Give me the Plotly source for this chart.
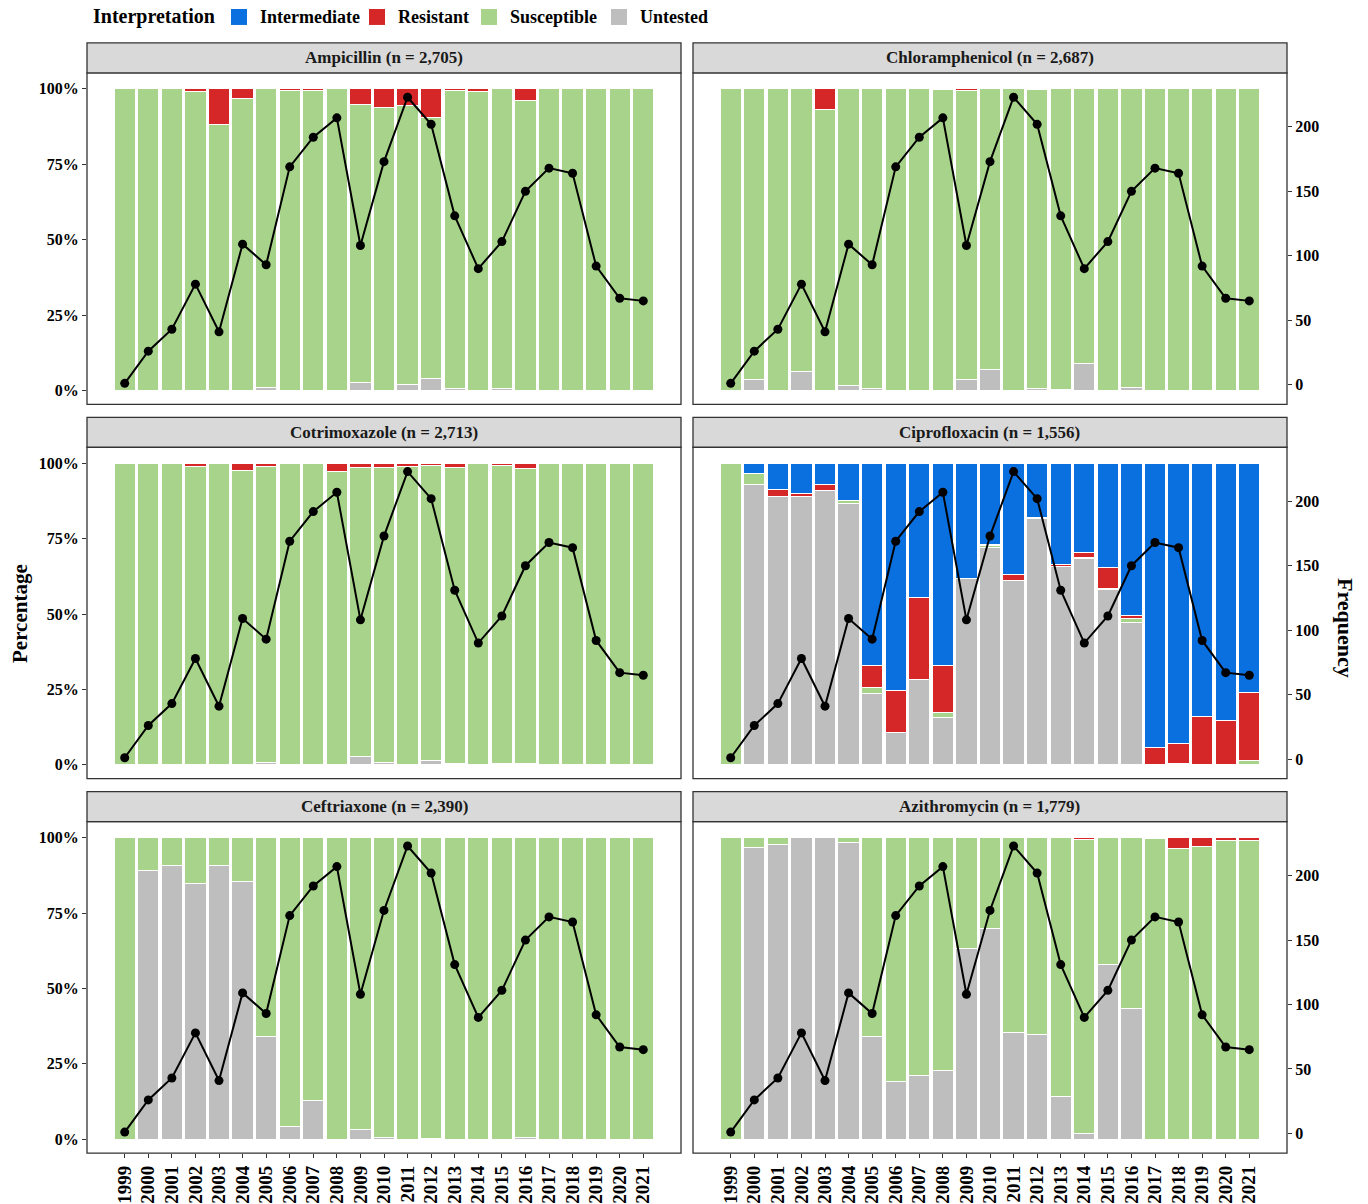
import plotly.graph_objects as go

years = list(range(1999, 2022))
year_labels = [str(y) for y in years]

# Total isolates per year (line, right axis)
frequency = [1, 26, 43, 78, 41, 109, 93, 169, 192, 207, 108, 173, 223, 202, 131, 90, 111, 150, 168, 164, 92, 67, 65]

categories = ["Intermediate", "Resistant", "Susceptible", "Untested"]
colors = {"Intermediate": "#0A6FDF", "Resistant": "#D62728", "Susceptible": "#A7D48A", "Untested": "#BEBEBE"}

# Percentages per year (1999..2021)
amp_intermediate = [0]*23
amp_resistant   = [0, 0, 0, 1.0, 11.7, 3.3, 0, 0.4, 0.4, 0, 5.2, 6.2, 5.5, 9.6, 0.7, 0.8, 0, 3.9, 0, 0, 0, 0, 0]
amp_susceptible = [100, 100, 100, 99.0, 88.3, 96.7, 99.0, 99.6, 99.6, 100, 92.1, 93.8, 92.6, 86.3, 98.8, 99.2, 99.4, 96.1, 100, 100, 100, 100, 100]
amp_untested    = [0, 0, 0, 0, 0, 0, 1.0, 0, 0, 0, 2.7, 0, 1.9, 4.1, 0.5, 0, 0.6, 0, 0, 0, 0, 0, 0]

chl_intermediate = [0]*23
chl_resistant   = [0, 0, 0, 0, 6.9, 0, 0, 0, 0, 0.3, 0.6, 0, 0, 0.3, 0, 0, 0, 0, 0, 0, 0, 0, 0]
chl_susceptible = [100, 96.5, 100, 93.8, 93.1, 98.3, 99.2, 100, 100, 99.7, 95.9, 93.1, 100, 99.1, 99.6, 91.2, 100, 98.9, 100, 100, 100, 100, 100]
chl_untested    = [0, 3.5, 0, 6.2, 0, 1.7, 0.8, 0, 0, 0, 3.5, 6.9, 0, 0.6, 0.4, 8.8, 0, 1.1, 0, 0, 0, 0, 0]

cot_intermediate = [0]*23
cot_resistant   = [0, 0, 0, 1.2, 0, 2.4, 1.0, 0, 0, 2.7, 1.5, 1.4, 1.1, 0.6, 1.3, 0, 0.8, 1.7, 0, 0, 0, 0, 0]
cot_susceptible = [100, 100, 100, 98.8, 100, 97.6, 98.2, 100, 100, 97.3, 95.8, 97.8, 98.9, 98.1, 98.2, 100, 98.6, 97.8, 100, 100, 100, 100, 100]
cot_untested    = [0, 0, 0, 0, 0, 0, 0.8, 0, 0, 0, 2.7, 0.8, 0, 1.3, 0.5, 0, 0.6, 0.5, 0, 0, 0, 0, 0]

cip_intermediate = [0, 3.4, 8.8, 10.0, 6.9, 12.4, 67.0, 75.4, 44.6, 67.0, 38.3, 26.8, 37.0, 18.0, 33.7, 29.5, 34.7, 50.6, 94.3, 92.9, 84.1, 85.3, 75.9]
cip_resistant   = [0, 0, 2.2, 1.1, 2.2, 0, 7.5, 14.0, 27.0, 15.6, 0, 0.6, 2.0, 0, 0.7, 1.8, 6.8, 1.0, 5.7, 6.5, 15.9, 14.7, 22.8]
cip_susceptible = [100, 3.6, 0, 0, 0, 1.1, 2.0, 0, 0, 1.7, 0, 0.6, 0, 0.4, 0, 0.4, 0.3, 1.3, 0, 0.6, 0, 0, 1.3]
cip_untested    = [0, 93.0, 89.0, 88.9, 90.9, 86.5, 23.5, 10.6, 28.4, 15.7, 61.7, 72.0, 61.0, 81.6, 65.6, 68.3, 58.2, 47.1, 0, 0, 0, 0, 0]

cef_intermediate = [0]*23
cef_resistant   = [0]*23
cef_susceptible = [100, 11.0, 9.1, 15.2, 9.4, 14.4, 66.0, 95.7, 87.3, 100, 96.7, 99.5, 100, 99.6, 100, 100, 100, 99.5, 100, 100, 100, 100, 100]
cef_untested    = [0, 89.0, 90.9, 84.8, 90.6, 85.6, 34.0, 4.3, 12.7, 0, 3.3, 0.5, 0, 0.4, 0, 0, 0, 0.5, 0, 0, 0, 0, 0]

azi_intermediate = [0]*23
azi_resistant   = [0, 0, 0, 0, 0, 0, 0, 0, 0, 0, 0, 0, 0, 0, 0, 0.7, 0, 0, 0.4, 3.5, 3.0, 1.1, 1.1]
azi_susceptible = [100, 3.3, 2.2, 0, 0, 1.5, 66.0, 80.8, 79.0, 77.2, 36.9, 30.1, 64.6, 65.3, 86.0, 97.4, 42.0, 56.6, 99.6, 96.5, 97.0, 98.9, 98.9]
azi_untested    = [0, 96.7, 97.8, 100, 100, 98.5, 34.0, 19.2, 21.0, 22.8, 63.1, 69.9, 35.4, 34.7, 14.0, 1.9, 58.0, 43.4, 0, 0, 0, 0, 0]

panel_titles = ["Ampicillin (n = 2,705)", "Chloramphenicol (n = 2,687)",
                "Cotrimoxazole (n = 2,713)", "Ciprofloxacin (n = 1,556)",
                "Ceftriaxone (n = 2,390)", "Azithromycin (n = 1,779)"]
panel_data = [
    {"Intermediate": amp_intermediate, "Resistant": amp_resistant, "Susceptible": amp_susceptible, "Untested": amp_untested},
    {"Intermediate": chl_intermediate, "Resistant": chl_resistant, "Susceptible": chl_susceptible, "Untested": chl_untested},
    {"Intermediate": cot_intermediate, "Resistant": cot_resistant, "Susceptible": cot_susceptible, "Untested": cot_untested},
    {"Intermediate": cip_intermediate, "Resistant": cip_resistant, "Susceptible": cip_susceptible, "Untested": cip_untested},
    {"Intermediate": cef_intermediate, "Resistant": cef_resistant, "Susceptible": cef_susceptible, "Untested": cef_untested},
    {"Intermediate": azi_intermediate, "Resistant": azi_resistant, "Susceptible": azi_susceptible, "Untested": azi_untested},
]

W, H = 1368, 1204
FONT = "Liberation Serif"
col_px = [(87, 681), (693, 1287)]
row_px = [(73, 405), (448, 780), (823, 1155)]
strip_h = 30

fig = go.Figure()
layout = dict(width=W, height=H, margin=dict(l=0, r=0, t=0, b=0),
              paper_bgcolor="white", plot_bgcolor="white",
              barmode="stack", barnorm="fraction", bargap=0.1,
              font=dict(family=FONT, color="black"),
              showlegend=False)
shapes = []
annotations = []

stack_order = ["Untested", "Susceptible", "Resistant", "Intermediate"]

for i in range(6):
    r, c = divmod(i, 2)
    xn = i + 1
    pn = 2 * i + 1
    sn = 2 * i + 2
    xref = "x" if xn == 1 else f"x{xn}"
    pref = "y" if pn == 1 else f"y{pn}"
    sref = f"y{sn}"
    xkey = "xaxis" if xn == 1 else f"xaxis{xn}"
    pkey = "yaxis" if pn == 1 else f"yaxis{pn}"
    skey = f"yaxis{sn}"

    x0, x1 = col_px[c]
    yt, yb = row_px[r]
    xdom = [x0 / W, x1 / W]
    ydom = [1 - yb / H, 1 - yt / H]

    d = panel_data[i]
    for cat in stack_order:
        fig.add_trace(go.Bar(
            x=years, y=d[cat], name=cat, xaxis=xref, yaxis=pref,
            marker=dict(color=colors[cat], line=dict(color="white", width=1)),
            width=0.9, showlegend=False, hoverinfo="skip"))
    fig.add_trace(go.Scatter(
        x=years, y=frequency, xaxis=xref, yaxis=sref, mode="lines+markers",
        line=dict(color="black", width=2), marker=dict(color="black", size=9),
        showlegend=False, hoverinfo="skip"))

    bottom = (r == 2)
    layout[xkey] = dict(domain=xdom, anchor=pref, range=[1997.4, 2022.6],
                        tickmode="array", tickvals=years, ticktext=year_labels,
                        showticklabels=bottom, ticks="outside" if bottom else "",
                        ticklen=4, tickcolor="#333333", tickangle=-90,
                        tickfont=dict(family=FONT, size=19, color="black", weight="bold"),
                        showgrid=False, zeroline=False, showline=False)
    left = (c == 0)
    layout[pkey] = dict(domain=ydom, anchor=xref, range=[-0.046, 1.053],
                        tickmode="array", tickvals=[0, 0.25, 0.5, 0.75, 1.0],
                        ticktext=["0%", "25%", "50%", "75%", "100%"],
                        showticklabels=left, ticks="outside" if left else "",
                        ticklen=4, tickcolor="#333333",
                        tickfont=dict(family=FONT, size=16, color="black", weight="bold"),
                        showgrid=False, zeroline=False, showline=False)
    layout[skey] = dict(domain=ydom, anchor=xref, overlaying=pref, side="right",
                        range=[-4.5 - 0.046 * 234, -4.5 + 1.053 * 234],
                        tickmode="array", tickvals=[0, 50, 100, 150, 200],
                        showticklabels=not left, ticks="outside" if not left else "",
                        ticklen=4, tickcolor="#333333",
                        tickfont=dict(family=FONT, size=16, color="black", weight="bold"),
                        showgrid=False, zeroline=False, showline=False)

    # panel border
    shapes.append(dict(type="rect", xref="paper", yref="paper",
                       x0=xdom[0], x1=xdom[1], y0=ydom[0], y1=ydom[1],
                       line=dict(color="#333333", width=1.3), fillcolor="rgba(0,0,0,0)", layer="above"))
    # strip
    s_top = 1 - (yt - strip_h) / H
    shapes.append(dict(type="rect", xref="paper", yref="paper",
                       x0=xdom[0], x1=xdom[1], y0=ydom[1], y1=s_top,
                       line=dict(color="#333333", width=1.3), fillcolor="#D9D9D9", layer="above"))
    annotations.append(dict(text=panel_titles[i], xref="paper", yref="paper",
                            x=(xdom[0] + xdom[1]) / 2, y=(ydom[1] + s_top) / 2,
                            xanchor="center", yanchor="middle", showarrow=False,
                            font=dict(family=FONT, size=17, color="#1a1a1a", weight="bold")))

annotations.append(dict(text="Percentage", xref="paper", yref="paper", x=20 / W, y=1 - 615 / H,
                        textangle=-90, showarrow=False, xanchor="center", yanchor="middle",
                        font=dict(family=FONT, size=21, color="black", weight="bold")))
annotations.append(dict(text="Frequency", xref="paper", yref="paper", x=1345 / W, y=1 - 629 / H,
                        textangle=90, showarrow=False, xanchor="center", yanchor="middle",
                        font=dict(family=FONT, size=22, color="black", weight="bold")))

# Legend (drawn manually to match swatch size)
leg_y = 1 - 17 / H
annotations.append(dict(text="Interpretation", xref="paper", yref="paper", x=91 / W, y=leg_y,
                        xanchor="left", yanchor="middle", showarrow=False,
                        font=dict(family=FONT, size=20, color="black", weight="bold")))
legend_swatch_x = [231, 369, 481, 611]
for cat, sx in zip(categories, legend_swatch_x):
    shapes.append(dict(type="rect", xref="paper", yref="paper",
                       x0=sx / W, x1=(sx + 16) / W, y0=1 - 25 / H, y1=1 - 9 / H,
                       line=dict(width=0), fillcolor=colors[cat]))
    annotations.append(dict(text=cat, xref="paper", yref="paper", x=(sx + 27) / W, y=leg_y,
                            xanchor="left", yanchor="middle", showarrow=False,
                            font=dict(family=FONT, size=18, color="black", weight="bold")))

layout["shapes"] = shapes
layout["annotations"] = annotations
fig.update_layout(**layout)

fig.write_html("out.html", config={"displayModeBar": False},
               post_script="document.body.style.margin='0';")
